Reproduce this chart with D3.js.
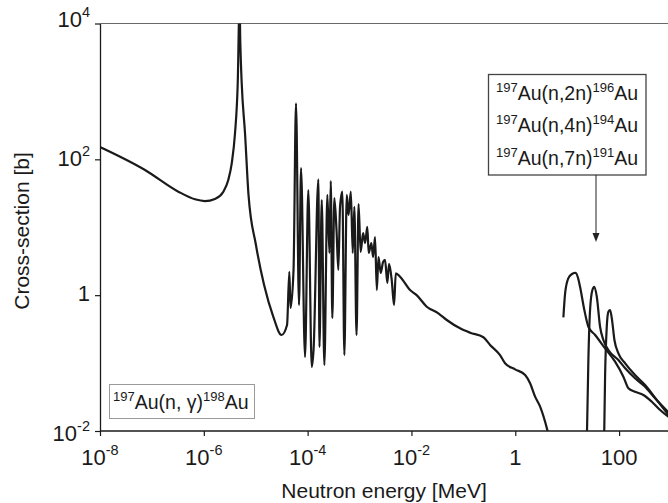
<!DOCTYPE html>
<html><head><meta charset="utf-8">
<script src="https://cdn.jsdelivr.net/npm/d3@7"></script>
<style>
body{margin:0;background:#fff}
text{font-family:"Liberation Sans",Arial,Helvetica,sans-serif;fill:#1a1a1a}
</style>
</head><body>
<svg id="chart" width="668" height="503"></svg>
<script>
// ---- data (energies in MeV, cross-sections in barn) ----
const gammaEnergy = [1e-8, 7.36e-8, 3.23e-7, 6.76e-7, 1.05e-6, 1.64e-6, 2.38e-6, 2.96e-6, 3.45e-6, 3.99e-6, 4.50e-6, 4.88e-6, 5.05e-6, 5.37e-6, 6.22e-6, 7.26e-6, 1.01e-5, 1.45e-5, 2.16e-5, 3.14e-5, 4.01e-5, 4.44e-5, 4.68e-5, 5.35e-5, 5.97e-5, 6.82e-5, 7.46e-5, 8.91e-5, 1.03e-4, 1.20e-4, 1.30e-4, 1.61e-4, 1.69e-4, 1.87e-4, 2.10e-4, 2.40e-4, 2.63e-4, 2.79e-4, 2.99e-4, 3.27e-4, 3.60e-4, 3.90e-4, 4.21e-4, 4.66e-4, 5.10e-4, 5.67e-4, 6.14e-4, 6.80e-4, 7.39e-4, 7.94e-4, 8.75e-4, 9.57e-4, 1.05e-3, 1.17e-3, 1.28e-3, 1.41e-3, 1.50e-3, 1.69e-3, 1.82e-3, 1.99e-3, 2.15e-3, 2.32e-3, 2.56e-3, 2.84e-3, 3.10e-3, 3.43e-3, 3.70e-3, 4.17e-3, 4.62e-3, 4.99e-3, 6.03e-3, 9.39e-3, 1.26e-2, 1.97e-2, 3.30e-2, 4.79e-2, 8.63e-2, 0.135, 0.243, 0.327, 0.509, 0.636, 0.991, 1.55, 1.93, 2.41, 3.01, 4.15, 4.69];
const gammaXS = [152, 69.7, 33.4, 25.8, 24.3, 26.1, 33.4, 49.7, 87.3, 242, 1316, 20000, 5100, 1316, 242, 29.9, 5.48, 1.41, 0.493, 0.259, 0.364, 2.21, 0.647, 2.35, 668, 0.716, 74.5, 0.123, 35.3, 0.0875, 0.156, 50.8, 0.173, 25.2, 0.0937, 29.9, 4.18, 48.0, 0.461, 26.9, 9.1, 2.35, 19.9, 33.4, 0.131, 29.9, 15.1, 33.4, 4.18, 20.0, 0.259, 22.0, 4.32, 8.22, 5.86, 10.1, 4.18, 5.86, 3.65, 7.18, 1.19, 3.65, 2.12, 3.08, 3.30, 1.51, 2.88, 1.67, 0.716, 2.10, 1.87, 1.19, 1.00, 0.676, 0.541, 0.431, 0.325, 0.280, 0.240, 0.185, 0.131, 0.0993, 0.0809, 0.0667, 0.0504, 0.0320, 0.0228, 0.0103, 0.007];

const n2nEnergy = [8.45, 9.12, 10.5, 12.4, 14.6, 16.2, 17.7, 21.4, 25.6, 34.5, 53.7, 83.7, 121, 151, 203, 294, 427, 617, 962];
const n2nXS = [0.472, 1.06, 1.77, 2.05, 2.14, 1.79, 1.33, 0.605, 0.343, 0.259, 0.165, 0.105, 0.063, 0.0426, 0.0379, 0.0339, 0.027, 0.0204, 0.0155];

const n4nEnergy = [23.9, 25.6, 27.6, 30.6, 33.4, 37.2, 43.0, 49.8, 62.2, 97, 131, 203, 317, 494, 962];
const n4nXS = [0.007, 0.111, 0.605, 1.19, 1.33, 0.948, 0.343, 0.219, 0.156, 0.111, 0.0838, 0.0597, 0.0449, 0.0303, 0.0178];

const n7nEnergy = [51.4, 53.7, 57.9, 62.2, 67.1, 72.4, 81.3, 97, 131, 203, 317, 532, 962];
const n7nXS = [0.007, 0.063, 0.343, 0.570, 0.605, 0.456, 0.219, 0.139, 0.0993, 0.0667, 0.0475, 0.0286, 0.0161];

const xTickValues = [1e-8, 1e-6, 1e-4, 1e-2, 1, 100];
const xTickLabels = [["10","-8"], ["10","-6"], ["10","-4"], ["10","-2"], ["1",""], ["100",""]];
const yTickValues = [1e-2, 1, 1e2, 1e4];
const yTickLabels = [["10","-2"], ["1",""], ["10","2"], ["10","4"]];

const xTitle = "Neutron energy [MeV]";
const yTitle = "Cross-section [b]";
const legendGamma = [["197","Au(n, γ)"],["198","Au"]];
const legendThreshold = [
  [["197","Au(n,2n)"],["196","Au"]],
  [["197","Au(n,4n)"],["194","Au"]],
  [["197","Au(n,7n)"],["191","Au"]]
];

// ---- layout ----
const L = 100, R = 671, T = 23.5, B = 431;
const yLabelShift = [10, 6, 7, 3];   // baseline offsets of the y tick labels (style)
const svg = d3.select("#chart");
const x = d3.scaleLog().domain([1e-8, 1e3]).range([L, R]);
const y = d3.scaleLog().domain([1e-2, 1e4]).range([B, T]);

svg.append("defs").append("clipPath").attr("id","plotclip")
  .append("rect").attr("x", L).attr("y", T).attr("width", R - L).attr("height", B - T);

// top frame line
svg.append("line").attr("x1", L).attr("x2", 668).attr("y1", T).attr("y2", T)
  .attr("stroke", "#6a6a6a").attr("stroke-width", 1.2);

// axes
const xAxis = d3.axisBottom(x).tickValues(xTickValues).tickSize(5).tickSizeOuter(0).tickFormat(() => "");
const yAxis = d3.axisLeft(y).tickValues(yTickValues).tickSize(5).tickSizeOuter(0).tickFormat(() => "");
const gx = svg.append("g").attr("transform", `translate(0,${B})`).call(xAxis);
const gy = svg.append("g").attr("transform", `translate(${L},0)`).call(yAxis);
[gx, gy].forEach(g => {
  g.select(".domain").attr("stroke", "#1a1a1a").attr("stroke-width", 1.3);
  g.selectAll(".tick line").attr("stroke", "#1a1a1a").attr("stroke-width", 1.2);
});
gx.select(".domain").attr("d", `M${L},0H668`);

function supText(sel, parts, size, supSize, supDy) {
  sel.text(null);
  sel.append("tspan").attr("font-size", size).text(parts[0]);
  if (parts[1]) sel.append("tspan").attr("font-size", supSize).attr("dy", supDy).text(parts[1]);
}

xTickValues.forEach((v, i) => {
  const t = svg.append("text").attr("x", x(v)).attr("y", 465).attr("text-anchor", "middle");
  supText(t, xTickLabels[i], 22, 14.5, -10);
});
yTickValues.forEach((v, i) => {
  const t = svg.append("text").attr("x", 90).attr("y", y(v) + yLabelShift[i]).attr("text-anchor", "end");
  supText(t, yTickLabels[i], 22, 14.5, -10);
});

svg.append("text").attr("x", 384).attr("y", 498).attr("text-anchor", "middle")
  .attr("font-size", 21).text(xTitle);
svg.append("text").attr("transform", `translate(29,231) rotate(-90)`)
  .attr("text-anchor", "middle").attr("font-size", 21).text(yTitle);

// curves
const line = d3.line().x(d => x(d[0])).y(d => y(d[1])).curve(d3.curveMonotoneX);
const plot = svg.append("g").attr("clip-path", "url(#plotclip)");
const series = [
  [gammaEnergy, gammaXS],
  [n2nEnergy, n2nXS],
  [n4nEnergy, n4nXS],
  [n7nEnergy, n7nXS]
];
series.forEach(([E, S]) => {
  plot.append("path").datum(E.map((e, i) => [e, S[i]]))
    .attr("d", line).attr("fill", "none").attr("stroke", "#1a1a1a")
    .attr("stroke-width", 2.2).attr("stroke-linejoin", "round");
});

// legend boxes
function legendLine(g, parts, xx, yy) {
  const t = g.append("text").attr("x", xx).attr("y", yy);
  parts.forEach(p => {
    t.append("tspan").attr("font-size", 13).attr("dy", -8).text(p[0]);
    t.append("tspan").attr("font-size", 19.5).attr("dy", 8).text(p[1]);
  });
}
const lg1 = svg.append("g");
lg1.append("rect").attr("x", 109.5).attr("y", 384.5).attr("width", 145).attr("height", 34)
  .attr("fill", "#fff").attr("stroke", "#9a9a9a").attr("stroke-width", 1);
legendLine(lg1, legendGamma, 113, 409);

const lg2 = svg.append("g");
lg2.append("rect").attr("x", 488.5).attr("y", 74.5).attr("width", 157.5).attr("height", 100.5)
  .attr("fill", "#fff").attr("stroke", "#444").attr("stroke-width", 1.3);
legendThreshold.forEach((parts, i) => legendLine(lg2, parts, 496, 99.5 + i * 32.5));

// arrow
lg2.append("line").attr("x1", 596).attr("x2", 596).attr("y1", 175).attr("y2", 234)
  .attr("stroke", "#222").attr("stroke-width", 1);
lg2.append("path").attr("d", "M592.5,233 L599.5,233 L596,242 Z").attr("fill", "#222");
</script>
</body></html>
